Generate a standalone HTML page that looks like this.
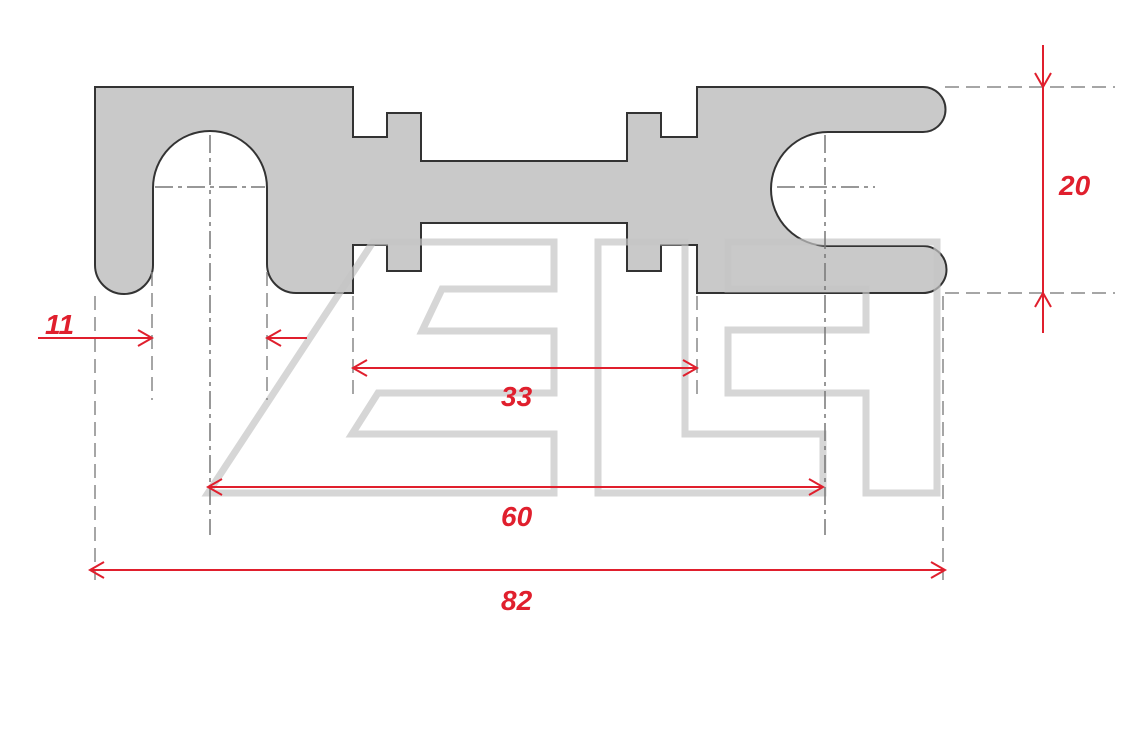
<!DOCTYPE html>
<html><head><meta charset="utf-8"><style>
html,body{margin:0;padding:0;background:#fff;}
svg{display:block;}
text{font-family:"Liberation Sans",sans-serif;font-weight:bold;font-style:italic;font-size:28px;fill:#e01f2d;}
</style></head><body>
<svg width="1146" height="736" viewBox="0 0 1146 736" xmlns="http://www.w3.org/2000/svg">
<path d="M95,87 H353 V137 H387 V113 H421 V161 H627 V113 H661 V137 H697 V87 H923 A22.5,22.5 0 0 1 923,132 H828 A57,57 0 0 0 828,246 H923 A23.5,23.5 0 0 1 923,293 H697 V245 H661 V271 H627 V223 H421 V271 H387 V245 H353 V293 H296 A29,29 0 0 1 267,264 V188 A57,57 0 0 0 153,188 V265 A29,29 0 0 1 95,265 Z" fill="#c9c9c9" stroke="#333" stroke-width="2"/>
<g fill="none" stroke="#c4c4c4" stroke-opacity="0.7" stroke-width="7">
<path d="M373,242 H554 V289 H442 L422,331 H554 V393 H378 L352,434 H554 V493 H208 Z"/>
<path d="M598,242 H685 V434 H823 V493 H598 Z"/>
<path d="M728,242 H937 V493 H866 V393 H728 V330 H866 V289 H728 Z"/>
</g>
<g stroke="#888" stroke-width="1.5" fill="none" stroke-dasharray="14,7">
<line x1="945" y1="87" x2="1115" y2="87"/>
<line x1="945" y1="293" x2="1115" y2="293"/>
<line x1="95" y1="296" x2="95" y2="580"/>
<line x1="152" y1="272" x2="152" y2="400"/>
<line x1="267" y1="272" x2="267" y2="400"/>
<line x1="353" y1="296" x2="353" y2="400"/>
<line x1="697" y1="296" x2="697" y2="400"/>
<line x1="943" y1="296" x2="943" y2="580"/>
</g>
<g stroke="#777" stroke-width="1.5" fill="none" stroke-dasharray="18,5,4,5">
<line x1="210" y1="135" x2="210" y2="535"/>
<line x1="825" y1="135" x2="825" y2="535"/>
<line x1="155" y1="187" x2="265" y2="187"/>
<line x1="777" y1="187" x2="875" y2="187"/>
</g>
<g stroke="#e01f2d" stroke-width="2" fill="none">
<line x1="38" y1="338" x2="152" y2="338"/><path d="M138,330 L152,338 L138,346"/>
<line x1="267" y1="338" x2="307" y2="338"/><path d="M281,330 L267,338 L281,346"/>
<line x1="353" y1="368" x2="697" y2="368"/><path d="M367,360 L353,368 L367,376 M683,360 L697,368 L683,376"/>
<line x1="208" y1="487" x2="823" y2="487"/><path d="M222,479 L208,487 L222,495 M809,479 L823,487 L809,495"/>
<line x1="90" y1="570" x2="945" y2="570"/><path d="M104,562 L90,570 L104,578 M931,562 L945,570 L931,578"/>
<line x1="1043" y1="45" x2="1043" y2="333"/><path d="M1035,73 L1043,87 L1051,73 M1035,307 L1043,293 L1051,307"/>
</g>
<text x="45" y="334">11</text>
<text x="501" y="406">33</text>
<text x="501" y="526">60</text>
<text x="501" y="610">82</text>
<text x="1059" y="195">20</text>
</svg>
</body></html>
